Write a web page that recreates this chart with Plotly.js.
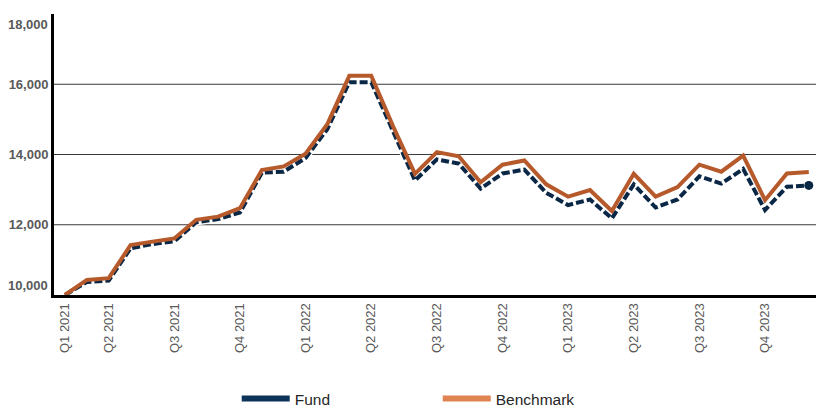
<!DOCTYPE html>
<html>
<head>
<meta charset="utf-8">
<script src="https://cdn.plot.ly/plotly-3.0.1.min.js"></script>
<style>
  html, body { margin: 0; padding: 0; background: #ffffff; }
  #chart { width: 816px; height: 407px; }
</style>
</head>
<body>
<div id="chart"></div>
<script>
// ---- Data ----
var months = [
  'Feb 2021','Mar 2021','Apr 2021','May 2021','Jun 2021','Jul 2021','Aug 2021','Sep 2021','Oct 2021','Nov 2021','Dec 2021',
  'Jan 2022','Feb 2022','Mar 2022','Apr 2022','May 2022','Jun 2022','Jul 2022','Aug 2022','Sep 2022','Oct 2022','Nov 2022','Dec 2022',
  'Jan 2023','Feb 2023','Mar 2023','Apr 2023','May 2023','Jun 2023','Jul 2023','Aug 2023','Sep 2023','Oct 2023','Nov 2023','Dec 2023'
];
var fund = [
  10000, 10370, 10410, 11330, 11450, 11530, 12070, 12160, 12350, 13480, 13510,
  13900, 14730, 16060, 16060, 14650, 13260, 13860, 13740, 13030, 13460, 13570, 12910,
  12560, 12720, 12180, 13150, 12490, 12720, 13380, 13170, 13590, 12420, 13080, 13120
];
var benchmark = [
  10000, 10430, 10480, 11420, 11520, 11610, 12140, 12230, 12470, 13560, 13660,
  14020, 14870, 16240, 16240, 14800, 13450, 14070, 13950, 13210, 13710, 13830, 13150,
  12800, 12990, 12390, 13450, 12800, 13070, 13710, 13510, 13970, 12700, 13460, 13500
];
var xTickVals = ['Feb 2021','Apr 2021','Jul 2021','Oct 2021','Jan 2022','Apr 2022','Jul 2022','Oct 2022','Jan 2023','Apr 2023','Jul 2023','Oct 2023'];
var xTickText = ['Q1 2021','Q2 2021','Q3 2021','Q4 2021','Q1 2022','Q2 2022','Q3 2022','Q4 2022','Q1 2023','Q2 2023','Q3 2023','Q4 2023'];
var yTickVals = [10000, 12000, 14000, 16000, 18000];
var yTickText = ['10,000', '12,000', '14,000', '16,000', '18,000'];
var gridVals = [12000, 14000, 16000];
var seriesNames = ['Fund', 'Benchmark'];

// ---- Styles ----
var FUND_COLOR = '#0b2746';
var BENCH_COLOR = '#b65a2c';
var FUND_LEGEND = '#0e3358';
var BENCH_LEGEND = '#df8352';
var LABEL_COLOR = '#595959';
var FONT = 'Liberation Sans, Arial, sans-serif';

var lastIdx = months.length - 1;

var traces = [
  { x: months, y: fund, type: 'scatter', mode: 'lines', showlegend: false, hoverinfo: 'skip',
    line: { color: '#ffffff', width: 6.5 } },
  { x: months, y: fund, type: 'scatter', mode: 'lines', name: seriesNames[0], showlegend: false,
    line: { color: FUND_COLOR, width: 4, dash: '8px,3px' } },
  { x: months, y: benchmark, type: 'scatter', mode: 'lines', name: seriesNames[1], showlegend: false,
    line: { color: BENCH_COLOR, width: 4 } },
  { x: [months[lastIdx]], y: [fund[lastIdx]], type: 'scatter', mode: 'markers', showlegend: false,
    marker: { color: FUND_COLOR, size: 9 }, cliponaxis: false },
  // legend entries
  { x: [null], y: [null], type: 'scatter', mode: 'lines', name: seriesNames[0],
    line: { color: FUND_LEGEND, width: 6 } },
  { x: [null], y: [null], type: 'scatter', mode: 'lines', name: seriesNames[1],
    line: { color: BENCH_LEGEND, width: 6 } }
];

var shapes = gridVals.map(function (v) {
  return { type: 'line', xref: 'paper', x0: 0, x1: 1, yref: 'y', y0: v, y1: v,
           line: { color: '#3a3a3a', width: 1 }, layer: 'below' };
});

// edge labels are drawn inside the axis span (as in the original)
var annotations = [
  { xref: 'paper', x: 0, xanchor: 'right', xshift: -4, yref: 'y', y: yTickVals[0], yanchor: 'middle', yshift: 10,
    text: yTickText[0], showarrow: false, font: { family: FONT, size: 13, color: LABEL_COLOR, weight: 'bold' } },
  { xref: 'paper', x: 0, xanchor: 'right', xshift: -4, yref: 'y', y: yTickVals[yTickVals.length - 1], yanchor: 'middle', yshift: -10,
    text: yTickText[yTickText.length - 1], showarrow: false, font: { family: FONT, size: 13, color: LABEL_COLOR, weight: 'bold' } }
];

var layout = {
  width: 816, height: 407,
  margin: { l: 54, r: 0, t: 14, b: 112, pad: 0 },
  paper_bgcolor: '#ffffff', plot_bgcolor: '#ffffff',
  font: { family: FONT, color: LABEL_COLOR },
  xaxis: {
    type: 'category', categoryorder: 'array', categoryarray: months,
    range: [-0.5, 34.33], automargin: false,
    tickmode: 'array', tickvals: xTickVals, ticktext: xTickText,
    tickangle: -90, tickfont: { family: FONT, size: 13, color: LABEL_COLOR },
    showgrid: false, zeroline: false, ticks: '',
    showline: true, linecolor: '#000000', linewidth: 3
  },
  yaxis: {
    range: [10000, 18000], automargin: false,
    tickmode: 'array', tickvals: yTickVals.slice(1, -1), ticktext: yTickText.slice(1, -1),
    tickfont: { family: FONT, size: 13, color: LABEL_COLOR, weight: 'bold' },
    showgrid: false, zeroline: false, ticks: '',
    showline: true, linecolor: '#000000', linewidth: 3
  },
  shapes: shapes,
  annotations: annotations,
  showlegend: true,
  legend: {
    orientation: 'h', xref: 'paper', x: 0.2398, xanchor: 'left',
    yref: 'container', y: 0.0614, yanchor: 'top',
    entrywidth: 138, entrywidthmode: 'pixels', itemwidth: 48,
    font: { family: FONT, size: 15.5, color: '#262626' },
    bgcolor: 'rgba(0,0,0,0)'
  }
};

Plotly.newPlot('chart', traces, layout, { displayModeBar: false, staticPlot: true });
</script>
</body>
</html>
